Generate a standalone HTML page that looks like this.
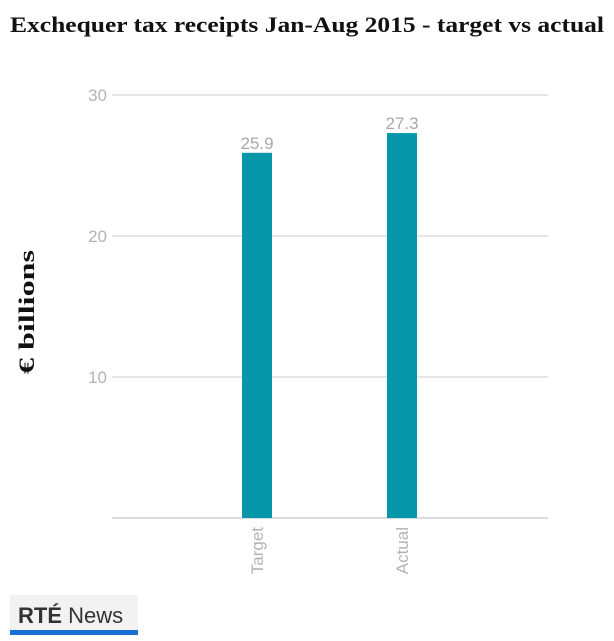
<!DOCTYPE html>
<html><head><meta charset="utf-8">
<style>
html,body{margin:0;padding:0;background:#fff;width:614px;height:641px;overflow:hidden}
svg{display:block}
</style></head>
<body>
<svg id="chart" width="614" height="641" xmlns="http://www.w3.org/2000/svg">
  <text x="10" y="32" font-family="Liberation Serif, serif" font-weight="bold" font-size="22" textLength="594" lengthAdjust="spacingAndGlyphs" fill="#111">Exchequer tax receipts Jan-Aug 2015 - target vs actual</text>
  <text transform="translate(34,312) rotate(-90)" text-anchor="middle" font-family="Liberation Serif, serif" font-weight="bold" font-size="22" textLength="124" lengthAdjust="spacingAndGlyphs" fill="#111">€ billions</text>
  <g id="grid"></g>
  <g id="bars"></g>
  <g id="logo">
    <rect x="10" y="595" width="128" height="36" fill="#f2f2f2"/>
    <rect x="10" y="630" width="128" height="5" fill="#1a6fd6"/>
    <text x="18" y="623" font-family="Liberation Sans, sans-serif" font-size="22" fill="#333"><tspan font-weight="bold">RTÉ</tspan> News</text>
  </g>
</svg>
<script>
const categories = ["Target", "Actual"];
const values = [25.9, 27.3];
const valueLabels = ["25.9", "27.3"];
const ticks = [10, 20, 30];

const NS = "http://www.w3.org/2000/svg";
const y0 = 518, pxPerUnit = 14.1;
const xLeft = 112, xRight = 548;
const catCenters0 = 257, catStep = 145, barW = 30;
function yScale(v){ return y0 - v * pxPerUnit; }
function xScale(i){ return catCenters0 + i * catStep; }
function mk(tag, attrs, parent){
  const el = document.createElementNS(NS, tag);
  for (const k in attrs) el.setAttribute(k, attrs[k]);
  parent.appendChild(el);
  return el;
}
const grid = document.getElementById("grid");
const bars = document.getElementById("bars");
ticks.forEach(t => {
  const l = mk("line", {x1: xLeft, x2: xRight, y1: yScale(t), y2: yScale(t), stroke: "#d6d6d6", "stroke-width": 1.2}, grid);
  
  
  const tx = mk("text", {x: 107, y: yScale(t) + 6, "text-anchor": "end", "font-family": "Liberation Sans, sans-serif", "font-size": 17, fill: "#b3b3b3"}, grid);
  tx.textContent = t;
  
  
});
const base = mk("line", {x1: xLeft, x2: xRight, y1: y0, y2: y0, stroke: "#d0d0d0", "stroke-width": 1.5}, grid);


values.forEach((v, i) => {
  const cx = xScale(i);
  const r = mk("rect", {x: cx - barW/2, y: yScale(v), width: barW, height: y0 - yScale(v), fill: "#0797ab"}, bars);
  
  
  const vl = mk("text", {x: cx, y: yScale(v) - 4, "text-anchor": "middle", "font-family": "Liberation Sans, sans-serif", "font-size": 17, fill: "#a8a8a8"}, bars);
  vl.textContent = valueLabels[i];
  
  
  const cl = mk("text", {transform: "translate(" + (cx + 6) + "," + (y0 + 9) + ") rotate(-90)", "text-anchor": "end", "font-family": "Liberation Sans, sans-serif", "font-size": 17, fill: "#b3b3b3"}, bars);
  cl.textContent = categories[i];
  
  
});
</script>
</body></html>
